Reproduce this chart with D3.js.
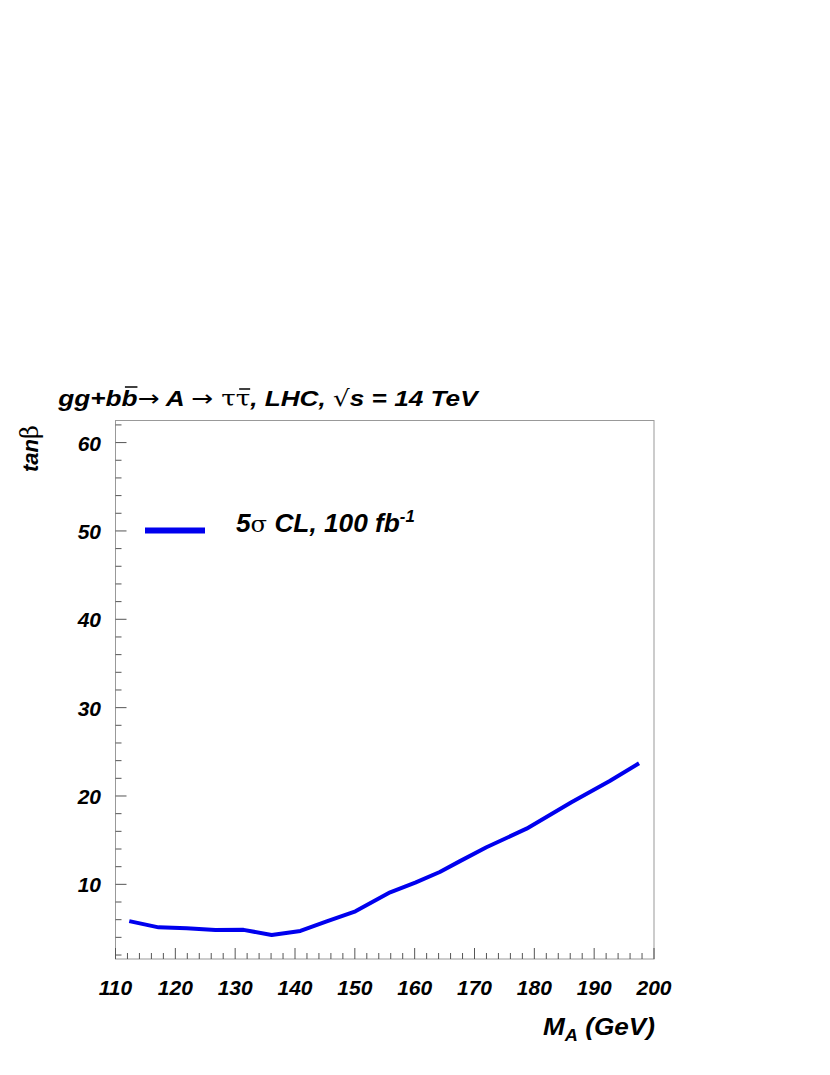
<!DOCTYPE html>
<html>
<head>
<meta charset="utf-8">
<script src="https://cdn.jsdelivr.net/npm/d3@7"></script>
<style>
body { margin: 0; background: #fff; }
text { font-family: "Liberation Sans", Arial, sans-serif; }
</style>
</head>
<body>
<script>
// 5 sigma discovery contour
var massA = [112.3, 117.2, 121.9, 126.7, 131.4, 136.1, 140.9, 145.3, 150.1, 155.9, 160.1, 164.2, 167.5, 172.0, 178.7, 186.2, 192.6, 197.5];
var tanBeta = [5.84, 5.13, 5.02, 4.83, 4.85, 4.26, 4.72, 5.8, 6.95, 9.1, 10.2, 11.4, 12.6, 14.2, 16.3, 19.3, 21.7, 23.7];
var xTicks = [110, 120, 130, 140, 150, 160, 170, 180, 190, 200];
var yTicks = [10, 20, 30, 40, 50, 60];

var width = 830, height = 1075;
var padL = 115.5, padR = 654, padT = 420.5, padB = 959;

var svg = d3.select('body').append('svg')
    .attr('width', width)
    .attr('height', height);

var x = d3.scaleLinear().domain([110, 200]).range([padL, padR]);
var y = d3.scaleLinear().domain([1.55, 62.5]).range([padB, padT]);

var tickColor = '#555';

// frame
svg.append('rect')
    .attr('x', padL).attr('y', padT)
    .attr('width', padR - padL).attr('height', padB - padT)
    .attr('fill', 'none').attr('stroke', '#999').attr('stroke-width', 1);

// ticks, minor every 2
var xMinor = d3.range(110, 201, 2);
var yMinor = d3.range(2, 63, 2);

svg.selectAll('.xt').data(xMinor).enter().append('line')
    .attr('x1', function(d){ return x(d); })
    .attr('x2', function(d){ return x(d); })
    .attr('y1', padB)
    .attr('y2', function(d){ return d % 10 === 0 ? padB - 11 : padB - 6; })
    .attr('stroke', tickColor).attr('stroke-width', 1);

svg.selectAll('.yt').data(yMinor).enter().append('line')
    .attr('y1', function(d){ return y(d); })
    .attr('y2', function(d){ return y(d); })
    .attr('x1', padL)
    .attr('x2', function(d){ return d % 10 === 0 ? padL + 11 : padL + 6; })
    .attr('stroke', tickColor).attr('stroke-width', 1);

// tick labels
svg.selectAll('.xl').data(xTicks).enter().append('text')
    .attr('x', function(d){ return x(d); })
    .attr('y', 995)
    .attr('text-anchor', 'middle')
    .attr('font-size', 21)
    .attr('font-weight', 'bold')
    .attr('font-style', 'italic')
    .text(function(d){ return d; });

svg.selectAll('.yl').data(yTicks).enter().append('text')
    .attr('x', 101)
    .attr('y', function(d){ return y(d) + 8; })
    .attr('text-anchor', 'end')
    .attr('font-size', 21)
    .attr('font-weight', 'bold')
    .attr('font-style', 'italic')
    .text(function(d){ return d; });

// curve
var line = d3.line()
    .x(function(d){ return x(d[0]); })
    .y(function(d){ return y(d[1]); });

svg.append('path')
    .datum(d3.zip(massA, tanBeta))
    .attr('d', line)
    .attr('fill', 'none')
    .attr('stroke', '#0000ee')
    .attr('stroke-width', 4)
    .attr('stroke-linejoin', 'round');

// stretch a text horizontally so it spans from x0 to x1
function fitWidth(sel, x0, x1) {
    var b = sel.node().getBBox();
    var k = (x1 - x0) / b.width;
    sel.attr('transform', 'translate(' + x0 + ',0) scale(' + k + ',1) translate(' + (-b.x) + ',0)');
}

// legend
svg.append('line')
    .attr('x1', 145).attr('x2', 205)
    .attr('y1', 530.5).attr('y2', 530.5)
    .attr('stroke', '#0000ee').attr('stroke-width', 6);

var leg = svg.append('text')
    .attr('x', 236).attr('y', 532)
    .attr('font-size', 25)
    .attr('font-weight', 'bold')
    .attr('font-style', 'italic');
leg.append('tspan').text('5');
leg.append('tspan').attr('font-weight', 'normal').attr('font-style', 'normal')
    .attr('font-family', 'DejaVu Serif, serif').attr('font-size', 23).text('σ');
leg.append('tspan').text(' CL, 100 fb');
leg.append('tspan').attr('font-size', 16).attr('dy', -10).text('-1');
fitWidth(leg, 236, 415);

// x title
var xt = svg.append('text')
    .attr('x', 0).attr('y', 1035)
    .attr('font-size', 23)
    .attr('font-weight', 'bold')
    .attr('font-style', 'italic');
xt.append('tspan').text('M');
xt.append('tspan').attr('font-size', 16).attr('dy', 6).text('A');
xt.append('tspan').attr('dy', -6).text(' (GeV)');
fitWidth(xt, 543, 655);

// y title
var yt = svg.append('text')
    .attr('transform', 'translate(38,472) rotate(-90)')
    .attr('font-size', 22)
    .attr('font-weight', 'bold')
    .attr('font-style', 'italic');
yt.append('tspan').text('tan');
yt.append('tspan').attr('font-weight', 'normal').attr('font-style', 'normal')
    .attr('font-family', 'DejaVu Serif, serif').attr('font-size', 24).text('β');

// main title
var title = svg.append('text')
    .attr('x', 0).attr('y', 406)
    .attr('font-size', 22.5)
    .attr('font-weight', 'bold')
    .attr('font-style', 'italic');
title.append('tspan').text('gg+b');
title.append('tspan').attr('class', 'bbar').text('b');
title.append('tspan').attr('font-weight', 'normal').attr('font-style', 'normal')
    .attr('font-family', 'DejaVu Sans').text('\u2192');
title.append('tspan').text(' A ');
title.append('tspan').attr('font-weight', 'normal').attr('font-style', 'normal')
    .attr('font-family', 'DejaVu Sans').text('\u2192 ');
title.append('tspan').attr('font-weight', 'normal').attr('font-style', 'normal')
    .attr('font-family', 'DejaVu Serif, serif').text('τ');
title.append('tspan').attr('class', 'taubar').attr('font-weight', 'normal').attr('font-style', 'normal')
    .attr('font-family', 'DejaVu Serif, serif').text('τ');
title.append('tspan').text(', LHC, ');
title.append('tspan').attr('font-weight', 'normal').attr('font-style', 'normal')
    .attr('font-family', 'DejaVu Sans').text('\u221A');
title.append('tspan').text('s = 14 TeV');
fitWidth(title, 57, 480);

// overbars on b and tau, placed from measured glyph boxes
function overbar(cls, yy) {
    var n = title.node();
    var node = title.select(cls).node();
    var kids = n.childNodes;
    var idx = 0;
    for (var i = 0; i < kids.length; i++) {
        if (kids[i] === node) break;
        idx += kids[i].textContent.length;
    }
    var box = n.getExtentOfChar(idx);
    var m = n.getCTM();
    var xa = m.a * (box.x + 3) + m.e;
    var xb = m.a * (box.x + box.width) + m.e;
    svg.append('line')
        .attr('x1', xa).attr('x2', xb)
        .attr('y1', yy).attr('y2', yy)
        .attr('stroke', '#000').attr('stroke-width', 1.5);
}
overbar('.bbar', 387);
overbar('.taubar', 389);
</script>
</body>
</html>
